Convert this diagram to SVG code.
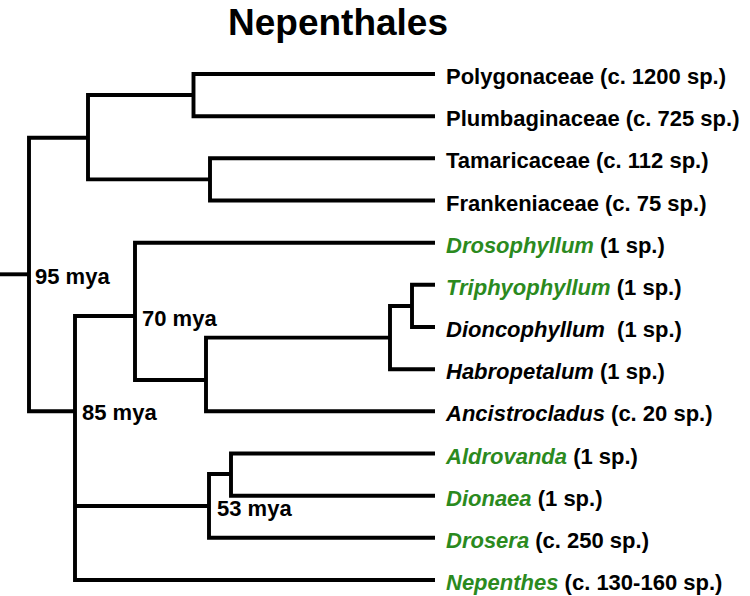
<svg xmlns="http://www.w3.org/2000/svg" width="750" height="596" viewBox="0 0 750 596">
<style>
text{font-family:"Liberation Sans",Arial,Helvetica,sans-serif;font-weight:bold;font-size:22px;fill:#000}
.t{font-size:37px}
.i{font-style:italic}
.g{fill:#2b8a1e}
.br{fill:none;stroke:#000;stroke-width:3.9;stroke-linejoin:miter;stroke-linecap:butt}
</style>
<rect width="750" height="596" fill="#fff"/>
<text id="title" class="t" x="228" y="35">Nepenthales</text>
<g id="connectors" class="br">
<path d="M435 74H193.5V116.2H435"/>
<path d="M435 158.3H210V200.5H435"/>
<path d="M193.5 95H88V179.4H210"/>
<path d="M88 137.7H29V411.3H75"/>
<path d="M0 274.3H29"/>
<path d="M435 284.8H412V327H435"/>
<path d="M412 306H390V369.2H435"/>
<path d="M390 337.6H206V411.3H435"/>
<path d="M435 242.7H135V380H206"/>
<path d="M135 316H75V580H435"/>
<path d="M435 453.5H231V495.7H435"/>
<path d="M231 474H209V537.8H435"/>
<path d="M75 506H209"/>
</g>
<g id="n-polygonaceae"><text x="446" y="84">Polygonaceae (c. 1200 sp.)</text></g>
<g id="n-plumbaginaceae"><text x="446" y="126.2">Plumbaginaceae (c. 725 sp.)</text></g>
<g id="n-tamaricaceae"><text x="446" y="168.3">Tamaricaceae (c. 112 sp.)</text></g>
<g id="n-frankeniaceae"><text x="446" y="210.5">Frankeniaceae (c. 75 sp.)</text></g>
<g id="n-drosophyllum"><text x="446" y="252.7"><tspan class="i g">Drosophyllum</tspan> (1 sp.)</text></g>
<g id="n-triphyophyllum"><text x="446" y="294.8"><tspan class="i g">Triphyophyllum</tspan> (1 sp.)</text></g>
<g id="n-dioncophyllum"><text x="446" y="337" xml:space="preserve" style="white-space:pre"><tspan class="i">Dioncophyllum</tspan>  (1 sp.)</text></g>
<g id="n-habropetalum"><text x="446" y="379.2"><tspan class="i">Habropetalum</tspan> (1 sp.)</text></g>
<g id="n-ancistrocladus"><text x="446" y="421.3"><tspan class="i">Ancistrocladus</tspan> (c. 20 sp.)</text></g>
<g id="n-aldrovanda"><text x="446" y="463.5"><tspan class="i g">Aldrovanda</tspan> (1 sp.)</text></g>
<g id="n-dionaea"><text x="446" y="505.7"><tspan class="i g">Dionaea</tspan> (1 sp.)</text></g>
<g id="n-drosera"><text x="446" y="547.8"><tspan class="i g">Drosera</tspan> (c. 250 sp.)</text></g>
<g id="n-nepenthes"><text x="446" y="590"><tspan class="i g">Nepenthes</tspan> (c. 130-160 sp.)</text></g>
<g id="age-95"><text x="35" y="284">95 mya</text></g>
<g id="age-70"><text x="142" y="326">70 mya</text></g>
<g id="age-85"><text x="82" y="420">85 mya</text></g>
<g id="age-53"><text x="217" y="516">53 mya</text></g>
</svg>
